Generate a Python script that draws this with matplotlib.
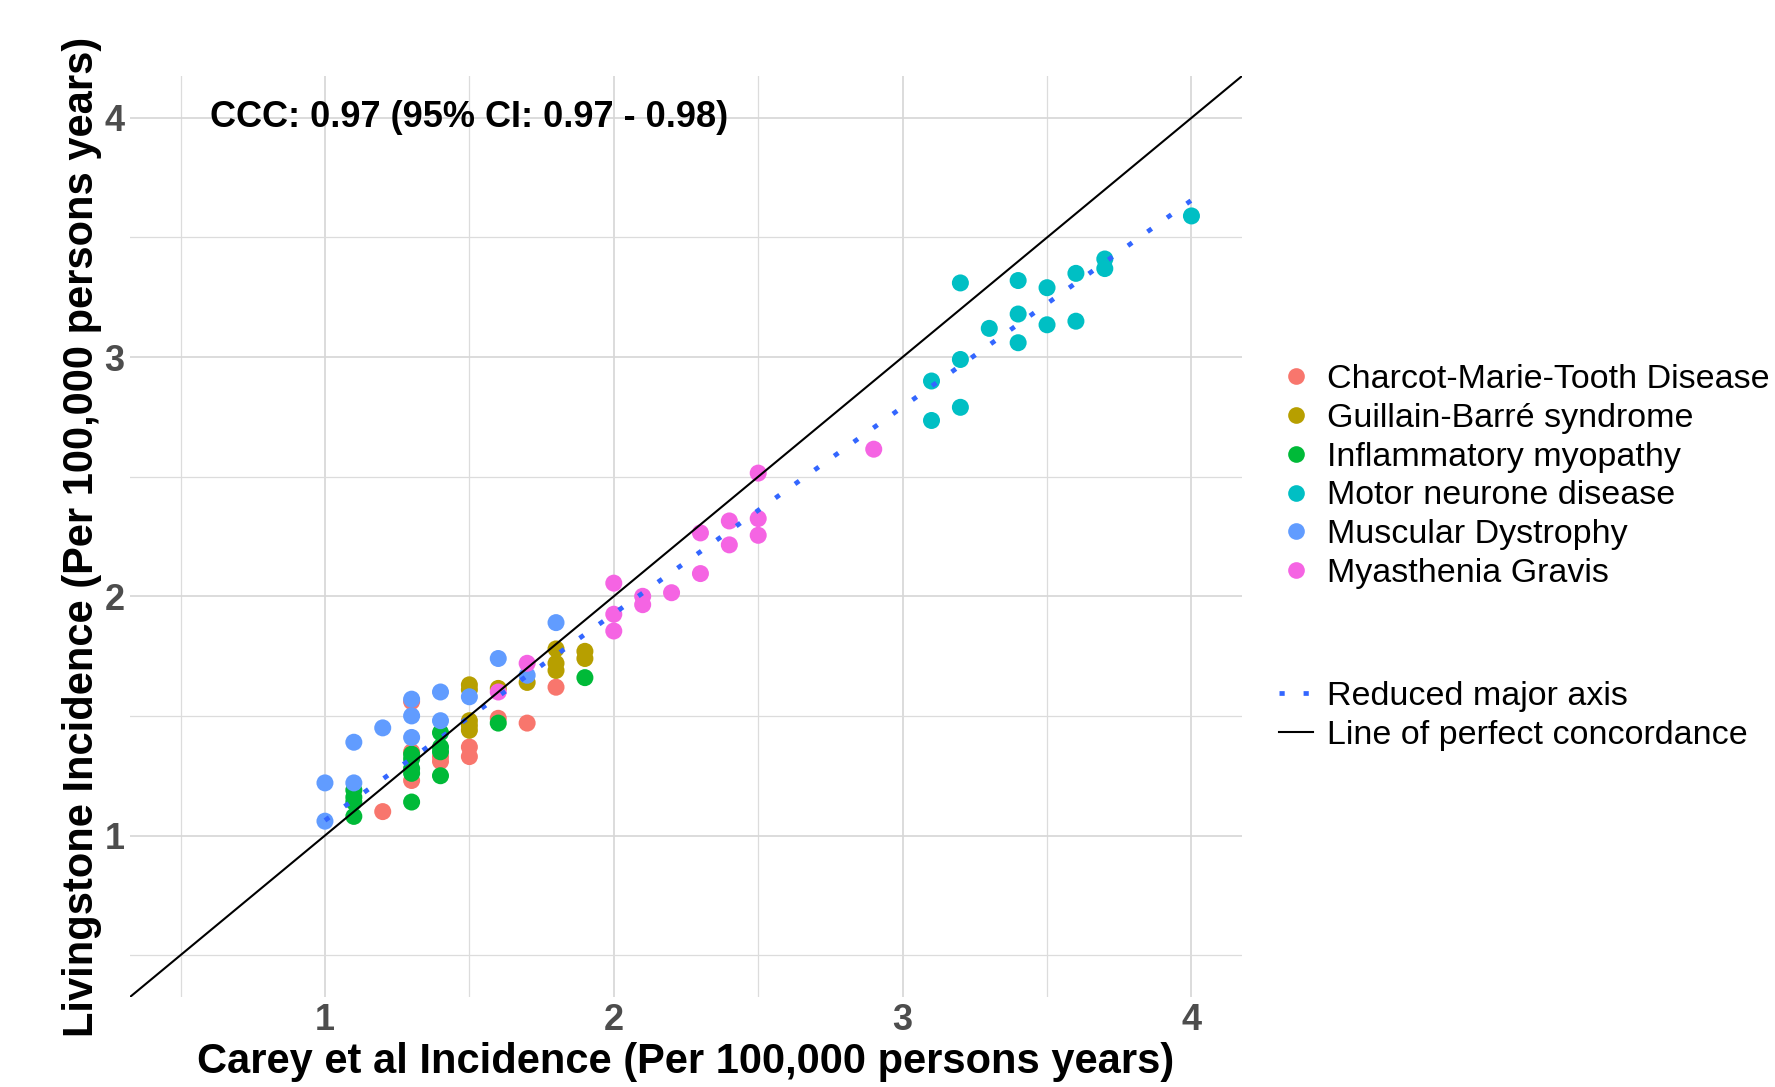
import numpy as np
import matplotlib
matplotlib.use("Agg")
from matplotlib import pyplot as plt
from matplotlib import font_manager as fm
from matplotlib.lines import Line2D

plt.rcParams['font.family'] = ['Liberation Sans', 'DejaVu Sans']

# data (incidence per 100,000 person years)
cmt_x = [1.2, 1.3, 1.3, 1.3, 1.4, 1.4, 1.5, 1.5, 1.6, 1.7, 1.8]
cmt_y = [1.10, 1.56, 1.35, 1.23, 1.33, 1.31, 1.37, 1.33, 1.49, 1.47, 1.62]
gbs_x = [1.5, 1.5, 1.5, 1.5, 1.5, 1.6, 1.7, 1.8, 1.8, 1.8, 1.9, 1.9]
gbs_y = [1.63, 1.61, 1.48, 1.46, 1.44, 1.615, 1.64, 1.78, 1.72, 1.69, 1.77, 1.74]
inf_x = [1.1, 1.1, 1.1, 1.1, 1.3, 1.3, 1.3, 1.3, 1.3, 1.4, 1.4, 1.4, 1.4, 1.6, 1.9]
inf_y = [1.19, 1.16, 1.14, 1.08, 1.34, 1.32, 1.28, 1.26, 1.14, 1.43, 1.37, 1.35, 1.25, 1.47, 1.66]
mnd_x = [3.1, 3.1, 3.2, 3.2, 3.2, 3.3, 3.4, 3.4, 3.4, 3.5, 3.5, 3.6, 3.6, 3.7, 3.7, 4.0]
mnd_y = [2.90, 2.735, 3.31, 2.99, 2.79, 3.12, 3.32, 3.18, 3.06, 3.29, 3.135, 3.35, 3.15, 3.41, 3.37, 3.59]
md_x = [1.0, 1.0, 1.1, 1.1, 1.2, 1.3, 1.3, 1.3, 1.4, 1.4, 1.5, 1.6, 1.7, 1.8]
md_y = [1.22, 1.06, 1.39, 1.22, 1.45, 1.57, 1.50, 1.41, 1.60, 1.48, 1.58, 1.74, 1.67, 1.89]
mg_x = [1.6, 1.7, 2.0, 2.0, 2.0, 2.1, 2.1, 2.2, 2.3, 2.3, 2.4, 2.4, 2.5, 2.5, 2.5, 2.9]
mg_y = [1.60, 1.72, 2.055, 1.925, 1.855, 2.0, 1.965, 2.015, 2.265, 2.095, 2.315, 2.215, 2.515, 2.325, 2.255, 2.615]

groups = ["Charcot-Marie-Tooth Disease", "Guillain-Barré syndrome", "Inflammatory myopathy",
          "Motor neurone disease", "Muscular Dystrophy", "Myasthenia Gravis"]
xs = [cmt_x, gbs_x, inf_x, mnd_x, md_x, mg_x]
ys = [cmt_y, gbs_y, inf_y, mnd_y, md_y, mg_y]
colors = ["#F8766D", "#B79F00", "#00BA38", "#00BFC4", "#619CFF", "#F564E3"]
ccc_label = "CCC: 0.97 (95% CI: 0.97 - 0.98)"

fig = plt.figure(figsize=(17.75, 10.87), dpi=100)
ax = fig.add_axes([130/1775, 1-997/1087, (1242-130)/1775, (997-76)/1087])

for gx, gy, c in zip(xs, ys, colors):
    ax.scatter(gx, gy, s=150, color=c, edgecolors='none', zorder=3)

# reduced major axis from the data
allx = np.concatenate([np.array(v) for v in xs])
ally = np.concatenate([np.array(v) for v in ys])
slope = np.sign(np.corrcoef(allx, ally)[0, 1]) * ally.std() / allx.std()
icpt = ally.mean() - slope * allx.mean()
lx = np.array([allx.min(), allx.max()])
ax.plot(lx, icpt + slope * lx, color="#3366FF", lw=3.4, dashes=(1.1, 4),
        dash_capstyle='butt', zorder=4)

lim = (0.325, 4.175)
ax.plot(lim, lim, color='black', lw=1.5, zorder=4)
ax.set_xlim(lim)
ax.set_ylim(lim)

ax.set_xticks([1, 2, 3, 4])
ax.set_yticks([1, 2, 3, 4])
ax.set_xticks([0.5, 1.5, 2.5, 3.5], minor=True)
ax.set_yticks([0.5, 1.5, 2.5, 3.5], minor=True)
ax.grid(which='major', color='#D6D6D6', lw=1.2)
ax.grid(which='minor', color='#DCDCDC', lw=0.9)
ax.set_axisbelow(True)
for sp in ax.spines.values():
    sp.set_visible(False)
ax.tick_params(which='both', length=0)
ax.tick_params(axis='x', pad=4, labelsize=26, labelcolor='#4D4D4D')
ax.tick_params(axis='y', pad=4, labelsize=26, labelcolor='#4D4D4D')
for t in ax.get_xticklabels() + ax.get_yticklabels():
    t.set_fontweight('bold')

ax.set_xlabel("Carey et al Incidence (Per 100,000 persons years)", fontsize=30,
              fontweight='bold', labelpad=3)
ax.set_ylabel("Livingstone Incidence (Per 100,000 persons years)", fontsize=30,
              fontweight='bold', labelpad=2)

ax.text(1.5, 4.0, ccc_label, ha='center', va='center', fontsize=26, fontweight='bold')

# legend font: a narrow sans if there is one
have = {f.name for f in fm.fontManager.ttflist}
if 'Liberation Sans Narrow' in have:
    leg_prop = {'family': 'Liberation Sans Narrow', 'size': 30}
    lsp = 0.05
else:
    leg_prop = {'family': 'Liberation Sans', 'size': 24.5}
    lsp = 0.23

pt_handles = [Line2D([], [], ls='none', marker='o', ms=12, color=c, mec='none') for c in colors]
leg1 = fig.legend(pt_handles, groups, loc='upper left', bbox_to_anchor=(1279/1775, 1-364/1087),
                  frameon=False, prop=leg_prop, handlelength=1.0,
                  handletextpad=0.4, labelspacing=lsp, borderaxespad=0, borderpad=0)
ln_handles = [Line2D([], [], color="#3366FF", lw=3.4, dashes=(1.1, 4), dash_capstyle='butt'),
              Line2D([], [], color='black', lw=1.5)]
leg2 = fig.legend(ln_handles, ["Reduced major axis", "Line of perfect concordance"],
                  loc='upper left', bbox_to_anchor=(1279/1775, 1-681/1087),
                  frameon=False, prop=leg_prop, handlelength=1.0,
                  handletextpad=0.4, labelspacing=lsp, borderaxespad=0, borderpad=0)

fig.savefig("out.png", dpi=100)
